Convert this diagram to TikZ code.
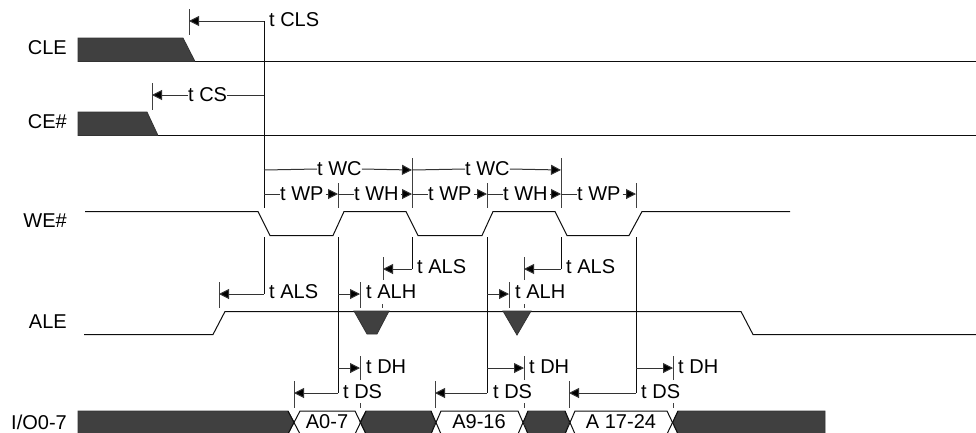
\documentclass[tikz,border=0pt]{standalone}
\usepackage{fontspec}
\setmainfont{Liberation Sans}
\usetikzlibrary{arrows.meta}
\definecolor{darkfill}{HTML}{404040}
\tikzset{
  sig/.style={line width=1pt,black!95},
  dim/.style={line width=1pt,black!80},
  tickmark/.style={line width=1pt,black!75},
  arr/.style={dim,-{Triangle[length=10pt,width=10pt,fill=black]}},
  lab/.style={inner sep=0pt,anchor=west,font=\fontsize{20}{22}\selectfont},
  signame/.style={inner sep=0pt,anchor=east,font=\fontsize{20}{22}\selectfont},
  datalab/.style={inner sep=0pt,font=\fontsize{20}{22}\selectfont},
  dark/.style={fill=darkfill,draw=black!80,line width=0.8pt},
}
\begin{document}
\begin{tikzpicture}[x=1pt,y=-1pt]
\useasboundingbox (0,0) rectangle (976,432);
\clip (0,0) rectangle (976,432);
% signal names
\node[signame] (nCLE) at (67,48) {CLE};
\node[signame] (nCE) at (67,122) {CE\#};
\node[signame] (nWE) at (67,221) {WE\#};
\node[signame] (nALE) at (67,322) {ALE};
\node[signame] (nIO) at (67,422) {I/O0-7};
% CLE, CE#
\draw[dark] (78,38) -- (183,38) -- (195,61.5) -- (78,61.5) -- cycle;
\draw[sig] (195,61.5) -- (976,61.5);
\draw[dark] (78,112) -- (147,112) -- (158,135.5) -- (78,135.5) -- cycle;
\draw[sig] (158,135.5) -- (976,135.5);
% WE#
\draw[sig] (85,211.5) -- (258,211.5) -- (270,235.5) -- (333,235.5) -- (344,211.5) -- (406,211.5) -- (418,235.5) -- (482,235.5) -- (493,211.5) -- (555,211.5) -- (567,235.5) -- (629,235.5) -- (642,211.5) -- (790,211.5);
% ALE
\draw[sig] (84,334.5) -- (213,334.5) -- (225,311.5) -- (741,311.5) -- (753,334.5) -- (976,334.5);
\draw[dark] (354,311) -- (389,311) -- (377,334) -- (367,334) -- cycle;
\draw[dark] (503,311) -- (531,311) -- (517,335) -- cycle;
% I/O
\draw[dark] (78,411) -- (288,411) -- (294,422) -- (288,434) -- (78,434) -- cycle;
\draw[dark] (366,411) -- (431,411) -- (435,422) -- (431,434) -- (366,434) -- (360,422) -- cycle;
\draw[dark] (528,411) -- (565,411) -- (569,422) -- (565,434) -- (528,434) -- (524,422) -- cycle;
\draw[dark] (678,411) -- (825,411) -- (825,434) -- (678,434) -- (673,422) -- cycle;
\draw[sig] (288,434) -- (300,411) -- (355,411) -- (366,434);
\draw[sig] (288,411) -- (300,434) -- (355,434) -- (366,411);
\draw[sig] (431,434) -- (441,411) -- (518,411) -- (528,434);
\draw[sig] (431,411) -- (441,434) -- (518,434) -- (528,411);
\draw[sig] (565,434) -- (575,411) -- (667,411) -- (678,434);
\draw[sig] (565,411) -- (575,434) -- (667,434) -- (678,411);
\node[datalab] (d1) at (327,422) {A0-7};
\node[datalab] (d2) at (479,422) {A9-16};
\node[datalab] (d3) at (621,422) {A 17-24};
% t CLS, t CS
\draw[sig] (264,21) -- (264,208);
\draw[tickmark] (189,9) -- (189,35);
\draw[arr] (264,21) -- (189,21);
\node[lab] (cls) at (269,20) {t CLS};
\draw[tickmark] (152,83) -- (152,110);
\node[lab] (cs) at (188,95) {t CS};
\draw[dim] (264,95) -- (cs.east);
\draw[arr] (cs.west) -- (152,95);
% ticks down from WE#
\foreach \x/\a/\b in {412/158/208,561/158/208,338/183/208,487/183/208,636/183/208}
  \draw[tickmark] (\x,\a) -- (\x,\b);
\foreach \x/\b in {264/294,338/393,412/269,487/393,561/269,636/393}
  \draw[sig] (\x,237) -- (\x,\b);
% t WC
\node[lab] (wc1) at (317,169) {t WC};
\draw[dim] (264,170) -- (wc1.west);
\draw[arr] (wc1.east) -- (412,170);
\node[lab] (wc2) at (465,169) {t WC};
\draw[dim] (412,170) -- (wc2.west);
\draw[arr] (wc2.east) -- (561,170);
% t WP / t WH
\foreach \n/\s/\t/\e/\txt in {wa/264/280/338/t WP,wb/338/354/412/t WH,wc/412/428/487/t WP,wd/487/503/561/t WH,we/561/577/636/t WP}{
  \node[lab] (\n) at (\t,194) {\txt};
  \draw[dim] (\s,194) -- (\n.west);
  \draw[arr] ([xshift=2pt]\n.east) -- (\e,194);
}
% t ALS
\draw[tickmark] (383,257) -- (383,280);
\draw[arr] (412,269) -- (383,269);
\node[lab] (als1) at (417,267) {t ALS};
\draw[tickmark] (524,257) -- (524,280);
\draw[arr] (561,269) -- (524,269);
\node[lab] (als2) at (566,267) {t ALS};
\draw[tickmark] (219,282) -- (219,308);
\draw[arr] (264,294) -- (219,294);
\node[lab] (als3) at (269,292) {t ALS};
% t ALH
\draw[tickmark] (360,282) -- (360,308);
\draw[arr] (338,294) -- (360,294);
\node[lab] (alh1) at (366,292) {t ALH};
\draw[tickmark] (382,304) -- (382,308);
\draw[tickmark] (509,282) -- (509,308);
\draw[arr] (487,294) -- (509,294);
\node[lab] (alh2) at (515,292) {t ALH};
\draw[tickmark] (524,304) -- (524,308);
% t DH
\draw[tickmark] (360,356) -- (360,380);
\draw[arr] (338,368) -- (360,368);
\node[lab] (dh1) at (366,367) {t DH};
\draw[tickmark] (524,356) -- (524,380);
\draw[arr] (487,368) -- (524,368);
\node[lab] (dh2) at (529,367) {t DH};
\draw[tickmark] (673,356) -- (673,380);
\draw[arr] (636,368) -- (673,368);
\node[lab] (dh3) at (678,367) {t DH};
% t DS
\draw[tickmark] (294,381) -- (294,408);
\draw[arr] (338,393) -- (294,393);
\node[lab] (ds1) at (343,392) {t DS};
\draw[tickmark] (435,381) -- (435,408);
\draw[arr] (487,393) -- (435,393);
\node[lab] (ds2) at (493,392) {t DS};
\draw[tickmark] (569,381) -- (569,408);
\draw[arr] (636,393) -- (569,393);
\node[lab] (ds3) at (641,392) {t DS};
\foreach \x in {360,524,673} \draw[tickmark] (\x,403) -- (\x,408);
\end{tikzpicture}
\end{document}
